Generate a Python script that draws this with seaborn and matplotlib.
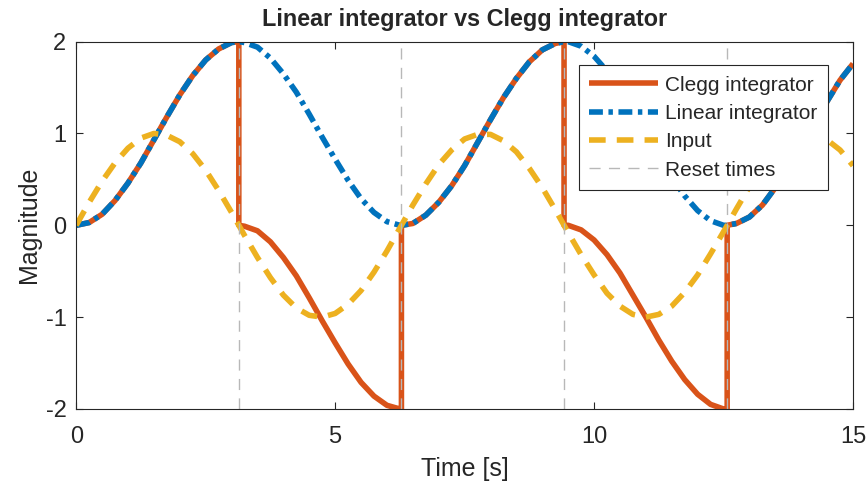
import pandas as pd
import matplotlib.pyplot as plt
import seaborn as sns

# Time grid (s) shared by input and linear integrator
time = [0.00, 0.25, 0.50, 0.75, 1.00, 1.25, 1.50, 1.75, 2.00, 2.25, 2.50, 2.75,
        3.00, 3.14, 3.25, 3.50, 3.75, 4.00, 4.25, 4.50, 4.75, 5.00, 5.25, 5.50,
        5.75, 6.00, 6.25, 6.28, 6.50, 6.75, 7.00, 7.25, 7.50, 7.75, 8.00, 8.25,
        8.50, 8.75, 9.00, 9.25, 9.42, 9.50, 9.75, 10.00, 10.25, 10.50, 10.75,
        11.00, 11.25, 11.50, 11.75, 12.00, 12.25, 12.50, 12.57, 12.75, 13.00,
        13.25, 13.50, 13.75, 14.00, 14.25, 14.50, 14.75, 15.00]

input_vals = [0.00, 0.25, 0.48, 0.68, 0.84, 0.95, 1.00, 0.98, 0.91, 0.78, 0.60, 0.38,
              0.14, 0.00, -0.11, -0.35, -0.57, -0.76, -0.90, -0.98, -1.00, -0.96, -0.86, -0.71,
              -0.51, -0.28, -0.03, 0.00, 0.22, 0.45, 0.66, 0.82, 0.94, 0.99, 0.99, 0.92,
              0.80, 0.62, 0.41, 0.17, 0.00, -0.08, -0.32, -0.54, -0.74, -0.88, -0.97,
              -1.00, -0.97, -0.88, -0.73, -0.54, -0.31, -0.07, 0.00, 0.18, 0.42,
              0.63, 0.80, 0.93, 0.99, 0.99, 0.93, 0.82, 0.65]

linear_vals = [0.00, 0.03, 0.12, 0.27, 0.46, 0.68, 0.93, 1.18, 1.42, 1.63, 1.80, 1.92,
               1.99, 2.00, 1.99, 1.94, 1.82, 1.65, 1.45, 1.21, 0.96, 0.72, 0.49, 0.29,
               0.14, 0.04, 0.00, 0.00, 0.02, 0.11, 0.25, 0.43, 0.65, 0.90, 1.15, 1.39,
               1.60, 1.78, 1.91, 1.98, 2.00, 2.00, 1.95, 1.84, 1.68, 1.48, 1.24,
               1.00, 0.75, 0.52, 0.32, 0.16, 0.05, 0.00, 0.00, 0.02, 0.09,
               0.22, 0.41, 0.62, 0.86, 1.11, 1.35, 1.58, 1.76]

# Clegg integrator: reset instants appear twice (value before / after reset)
clegg_time = [0.00, 0.25, 0.50, 0.75, 1.00, 1.25, 1.50, 1.75, 2.00, 2.25, 2.50, 2.75,
              3.00, 3.14, 3.14, 3.25, 3.50, 3.75, 4.00, 4.25, 4.50, 4.75, 5.00, 5.25,
              5.50, 5.75, 6.00, 6.25, 6.28, 6.28, 6.50, 6.75, 7.00, 7.25, 7.50, 7.75,
              8.00, 8.25, 8.50, 8.75, 9.00, 9.25, 9.42, 9.42, 9.50, 9.75, 10.00, 10.25,
              10.50, 10.75, 11.00, 11.25, 11.50, 11.75, 12.00, 12.25, 12.50, 12.57,
              12.57, 12.75, 13.00, 13.25, 13.50, 13.75, 14.00, 14.25, 14.50, 14.75, 15.00]

clegg_vals = [0.00, 0.03, 0.12, 0.27, 0.46, 0.68, 0.93, 1.18, 1.42, 1.63, 1.80, 1.92,
              1.99, 2.00, 0.00, -0.01, -0.06, -0.18, -0.35, -0.55, -0.79, -1.04, -1.28, -1.51,
              -1.71, -1.86, -1.96, -2.00, -2.00, 0.00, 0.02, 0.11, 0.25, 0.43, 0.65, 0.90,
              1.15, 1.39, 1.60, 1.78, 1.91, 1.98, 2.00, 0.00, 0.00, -0.05, -0.16, -0.32,
              -0.52, -0.76, -1.00, -1.25, -1.48, -1.68, -1.84, -1.95, -2.00, -2.00,
              0.00, 0.02, 0.09, 0.22, 0.41, 0.62, 0.86, 1.11, 1.35, 1.58, 1.76]

reset_times = [3.14, 6.28, 9.42, 12.57]

df = pd.DataFrame({"t": time, "input": input_vals, "linear": linear_vals})
df_clegg = pd.DataFrame({"t": clegg_time, "clegg": clegg_vals})

sns.set_style("ticks")
plt.rcParams["font.family"] = ["Liberation Sans", "DejaVu Sans"]
plt.rcParams["axes.unicode_minus"] = False

fig, ax = plt.subplots(figsize=(8.66, 4.84), dpi=100)
fig.subplots_adjust(left=0.088, right=0.985, bottom=0.155, top=0.914)

sns.lineplot(x="t", y="clegg", data=df_clegg, ax=ax, estimator=None, sort=False,
             color="#D95319", linewidth=4, label="Clegg integrator",
             solid_capstyle="butt", solid_joinstyle="round")
sns.lineplot(x="t", y="linear", data=df, ax=ax, estimator=None, sort=False,
             color="#0072BD", linewidth=4, label="Linear integrator",
             linestyle=(0, (2.5, 1, 0.8, 1)), dash_capstyle="butt",
             dash_joinstyle="round")
sns.lineplot(x="t", y="input", data=df, ax=ax, estimator=None, sort=False,
             color="#EDB120", linewidth=4, label="Input",
             linestyle=(0, (3, 2)), dash_capstyle="butt", dash_joinstyle="round")
for i, rt in enumerate(reset_times):
    ax.axvline(rt, color="#b8b8b8", linewidth=1, linestyle=(0, (8, 6)),
               label="Reset times" if i == 0 else None)

ax.set_xlim(0, 15)
ax.set_ylim(-2, 2)
ax.set_xticks([0, 5, 10, 15])
ax.set_yticks([-2, -1, 0, 1, 2])
ax.tick_params(direction="in", length=5, width=0.8, top=True, right=True,
               labelsize=17, colors="#262626")
ax.tick_params(axis="x", pad=12.5)
ax.tick_params(axis="y", pad=7)
for s in ax.spines.values():
    s.set_color("#262626")
    s.set_linewidth(0.8)

ax.set_title("Linear integrator vs Clegg integrator", fontsize=16.8, fontweight="bold", pad=11)
ax.set_xlabel("Time [s]", fontsize=18, color="#262626", labelpad=6)
ax.set_ylabel("Magnitude", fontsize=18, color="#262626", labelpad=3)

leg = ax.legend(loc="upper right", bbox_to_anchor=(0.968, 0.936), borderaxespad=0,
                fontsize=15, handlelength=3.3, labelspacing=0.45, handletextpad=0.35,
                borderpad=0.5, fancybox=False, framealpha=1, edgecolor="#262626")
leg.get_frame().set_linewidth(0.8)

plt.savefig("out.png", dpi=100)
plt.close()
